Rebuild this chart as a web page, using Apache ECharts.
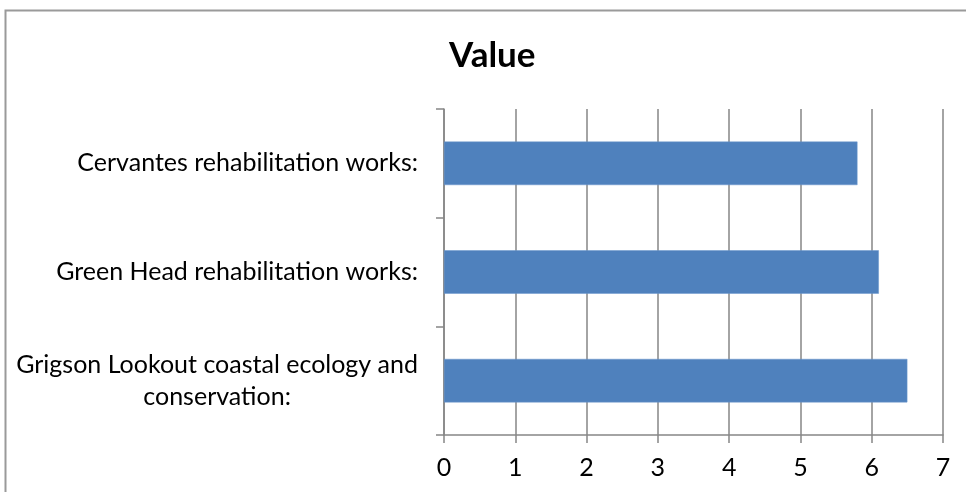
<!DOCTYPE html>
<html>
<head>
<meta charset="utf-8">
<script src="https://cdn.jsdelivr.net/npm/echarts@6/dist/echarts.min.js"></script>
<style>
html,body{margin:0;padding:0;background:#fff;}
#chart{width:966px;height:492px;}
</style>
</head>
<body>
<div id="chart"></div>
<script>
var title = 'Value';
var categories = ['Cervantes rehabilitation works:', 'Green Head rehabilitation works:', 'Grigson Lookout coastal ecology and conservation:'];
var values = [5.8, 6.1, 6.5];
var xTicks = [0, 1, 2, 3, 4, 5, 6, 7];

var FONT = 'Lato';
var LABEL_SIZE = 25;
var GREY = '#868686';

function wrap(s, maxChars) {
  var words = s.split(' '), lines = [], cur = '';
  words.forEach(function (w) {
    var t = cur ? cur + ' ' + w : w;
    if (t.length > maxChars && cur) { lines.push(cur); cur = w; } else { cur = t; }
  });
  if (cur) lines.push(cur);
  return lines;
}

var chart = echarts.init(document.getElementById('chart'), null, {renderer: 'canvas'});
chart.setOption({
  backgroundColor: '#fff',
  animation: false,
  title: {
    text: title, left: 444, top: 33,
    textStyle: {fontFamily: FONT, fontWeight: 'bold', fontSize: 35, color: '#000'}
  },
  graphic: [{
    type: 'rect', silent: true, z: 100,
    shape: {x: 5.5, y: 10.5, width: 1000, height: 1000},
    style: {fill: 'none', stroke: '#9a9a9a', lineWidth: 2}
  }],
  grid: {left: 444, right: 23, top: 109, bottom: 57, containLabel: false},
  xAxis: {
    type: 'value', min: xTicks[0], max: xTicks[xTicks.length - 1], interval: 1,
    axisLine: {show: true, lineStyle: {color: GREY, width: 1.5}},
    axisTick: {show: true, length: 8, lineStyle: {color: GREY, width: 1.5}},
    splitLine: {show: true, lineStyle: {color: GREY, width: 1.5}},
    axisLabel: {margin: 20, fontFamily: FONT, fontSize: LABEL_SIZE, color: '#000'}
  },
  yAxis: {
    type: 'category', data: categories, inverse: true,
    axisLine: {show: true, lineStyle: {color: GREY, width: 1.5}},
    axisTick: {show: true, length: 8, lineStyle: {color: GREY, width: 1.5}},
    splitLine: {show: false},
    axisLabel: {
      margin: 26, color: '#000', fontFamily: FONT, fontSize: LABEL_SIZE,
      formatter: function (v) {
        return wrap(v, 36).map(function (l) { return '{c|' + l + '}'; }).join('\n');
      },
      rich: {c: {align: 'center', fontFamily: FONT, fontSize: LABEL_SIZE, lineHeight: 32, color: '#000'}}
    }
  },
  series: [{
    type: 'bar', data: values, barCategoryGap: '60%',
    itemStyle: {color: '#4F81BD', borderColor: '#6b96cc', borderWidth: 0.5}
  }]
});
</script>
</body>
</html>
